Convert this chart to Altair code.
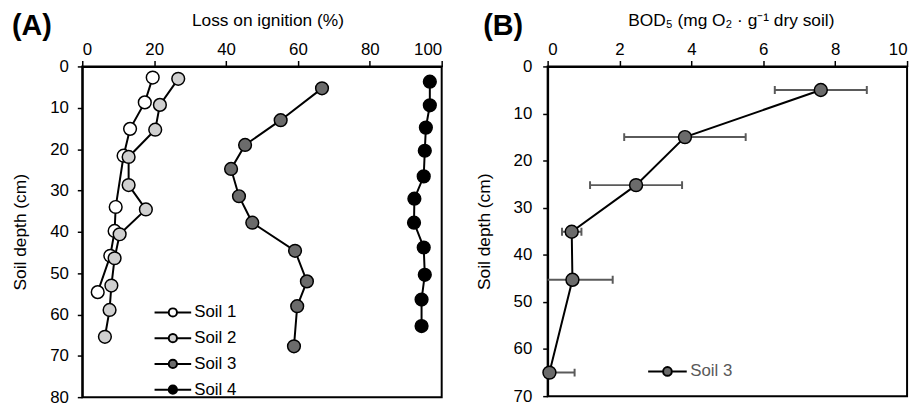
import altair as alt
import pandas as pd

FONT = "Liberation Sans"

# ---------- Panel A: Loss on ignition ----------
soils = ["Soil 1", "Soil 2", "Soil 3", "Soil 4"]
soil_fills = ["#ffffff", "#d0d0d0", "#6b6b6b", "#000000"]

s1_loi = [19.6, 17.4, 13.3, 11.5, 9.3, 9.0, 7.8, 4.3]
s1_depth = [2.7, 8.7, 15.1, 21.6, 34.0, 39.8, 45.8, 54.6]
s2_loi = [26.7, 21.6, 20.3, 12.9, 12.9, 17.7, 10.4, 9.0, 8.1, 7.6, 6.3]
s2_depth = [3.0, 9.3, 15.3, 21.9, 28.7, 34.6, 40.6, 46.4, 53.0, 58.9, 65.4]
s3_loi = [66.7, 55.2, 45.3, 41.4, 43.6, 47.3, 59.2, 62.5, 59.8, 58.9]
s3_depth = [5.3, 13.0, 19.0, 24.8, 31.4, 37.8, 44.6, 52.0, 58.0, 67.7]
s4_loi = [96.7, 96.7, 95.6, 95.3, 95.0, 92.4, 92.3, 95.0, 95.3, 94.4, 94.4]
s4_depth = [3.7, 9.4, 14.8, 20.4, 26.6, 32.0, 37.8, 43.8, 50.4, 56.4, 62.8]

loi_ticks = [0, 20, 40, 60, 80, 100]
depth_ticks_a = [0, 10, 20, 30, 40, 50, 60, 70, 80]

# ---------- Panel B: BOD5 of Soil 3 ----------
bod_depth = [5.0, 15.0, 25.2, 35.1, 45.3, 65.0]
bod_val = [7.6, 3.82, 2.46, 0.67, 0.69, 0.05]
bod_err = [1.28, 1.69, 1.28, 0.27, 1.12, 0.70]

bod_ticks = [0, 2, 4, 6, 8, 10]
depth_ticks_b = [0, 10, 20, 30, 40, 50, 60, 70]

rows = []
for name, xs, ys in [("Soil 1", s1_loi, s1_depth), ("Soil 2", s2_loi, s2_depth),
                     ("Soil 3", s3_loi, s3_depth), ("Soil 4", s4_loi, s4_depth)]:
    for x, y in zip(xs, ys):
        rows.append({"soil": name, "loi": x, "depth": y})
df_a = pd.DataFrame(rows)

df_b = pd.DataFrame({
    "soil": ["Soil 3"] * len(bod_val),
    "depth": bod_depth,
    "bod": bod_val,
    "lo": [v - e for v, e in zip(bod_val, bod_err)],
    "hi": [v + e for v, e in zip(bod_val, bod_err)],
})

W, H = 363, 334
FS = 17

LEG_PATH = ("M-2,0L-0.45,0M0.45,0L2,0"
            "M-0.45,0A0.45,0.45,0,1,1,0.45,0A0.45,0.45,0,1,1,-0.45,0Z")


def x_axis(title, ticks, title_x):
    return alt.Axis(orient="top", title=title, values=ticks, tickSize=6,
                    labelPadding=2, titlePadding=11, titleX=title_x, grid=False)


def y_axis(ticks, label_pad, title_pad):
    return alt.Axis(title="Soil depth (cm)", values=ticks, tickSize=5,
                    labelPadding=label_pad, titlePadding=title_pad, grid=False)


# Panel A
xa = alt.X("loi:Q", scale=alt.Scale(domain=[0, 100], nice=False),
           axis=x_axis("Loss on ignition (%)", loi_ticks, 187))
ya = alt.Y("depth:Q", scale=alt.Scale(domain=[0, 80], reverse=True, nice=False),
           axis=y_axis(depth_ticks_a, 9, 20))

lines_a = alt.Chart(df_a).mark_line(color="black", strokeWidth=2).encode(
    x=xa, y=ya, detail="soil:N", order="depth:Q")
points_a = alt.Chart(df_a).mark_point(
    filled=True, size=165, stroke="black", strokeWidth=1.5, opacity=1
).encode(
    x=xa, y=ya,
    fill=alt.Fill("soil:N", scale=alt.Scale(domain=soils, range=soil_fills),
                  legend=alt.Legend(orient="none", legendX=81, legendY=238,
                                    title=None, symbolType=LEG_PATH,
                                    symbolSize=342, symbolStrokeColor="black",
                                    symbolStrokeWidth=2, labelOffset=11,
                                    labelFontSize=FS, labelFont=FONT,
                                    labelColor="black", rowPadding=7,
                                    padding=0)),
)
label_a = alt.Chart(pd.DataFrame({"t": ["(A)"]})).mark_text(
    font=FONT, fontSize=29, fontWeight="bold", align="left", baseline="alphabetic",
    color="black"
).encode(text="t:N", x=alt.value(-71), y=alt.value(-32))

panel_a = alt.layer(lines_a, points_a, label_a).properties(width=W, height=H)

# Panel B
xb = alt.X("bod:Q", scale=alt.Scale(domain=[0, 10], nice=False),
           axis=x_axis("BOD₅ (mg O₂ · g⁻¹ dry soil)", bod_ticks, 185))
yb = alt.Y("depth:Q", scale=alt.Scale(domain=[0, 70], reverse=True, nice=False),
           axis=y_axis(depth_ticks_b, 11, 20))

err_b = alt.Chart(df_b).mark_rule(color="#5a5a5a", strokeWidth=2, clip=True).encode(
    x=alt.X("lo:Q", scale=alt.Scale(domain=[0, 10], nice=False),
            axis=x_axis("BOD₅ (mg O₂ · g⁻¹ dry soil)", bod_ticks, 185)),
    x2="hi:Q", y=yb)
cap_lo = alt.Chart(df_b).mark_point(
    shape="M0,-1L0,1", size=64, stroke="#5a5a5a", strokeWidth=2, clip=True,
    opacity=1).encode(x="lo:Q", y=yb)
cap_hi = alt.Chart(df_b).mark_point(
    shape="M0,-1L0,1", size=64, stroke="#5a5a5a", strokeWidth=2, clip=True,
    opacity=1).encode(x="hi:Q", y=yb)
line_b = alt.Chart(df_b).mark_line(color="black", strokeWidth=2).encode(
    x=xb, y=yb, order="depth:Q")
points_b = alt.Chart(df_b).mark_point(
    filled=True, size=170, stroke="black", strokeWidth=1.5, opacity=1
).encode(
    x=xb, y=yb,
    fill=alt.Fill("soil:N", scale=alt.Scale(domain=["Soil 3"], range=["#6b6b6b"]),
                  legend=alt.Legend(orient="none", legendX=110, legendY=297,
                                    title=None, symbolType=LEG_PATH,
                                    symbolSize=380, symbolStrokeColor="black",
                                    symbolStrokeWidth=2, labelOffset=12,
                                    labelFontSize=FS, labelFont=FONT,
                                    labelColor="#595959", padding=0)),
)
label_b = alt.Chart(pd.DataFrame({"t": ["(B)"]})).mark_text(
    font=FONT, fontSize=29, fontWeight="bold", align="left", baseline="alphabetic",
    color="black"
).encode(text="t:N", x=alt.value(-65), y=alt.value(-32))

panel_b = alt.layer(err_b, cap_lo, cap_hi, line_b, points_b, label_b).properties(
    width=W, height=H - 1)

chart = alt.hconcat(panel_a, panel_b, spacing=31).resolve_scale(
    fill="independent"
).resolve_legend(fill="independent").configure_view(
    stroke="black", strokeWidth=2
).configure_axis(
    labelFont=FONT, titleFont=FONT, labelFontSize=FS, titleFontSize=17.5,
    labelColor="black", titleColor="black", titleFontWeight="normal",
    domainColor="black", domainWidth=2, tickColor="black", tickWidth=1.5,
).properties(
    padding={"left": 3, "top": 1, "right": 5, "bottom": 5},
    background="white",
)

chart.save("out.html", embed_options={"renderer": "svg", "actions": False})
